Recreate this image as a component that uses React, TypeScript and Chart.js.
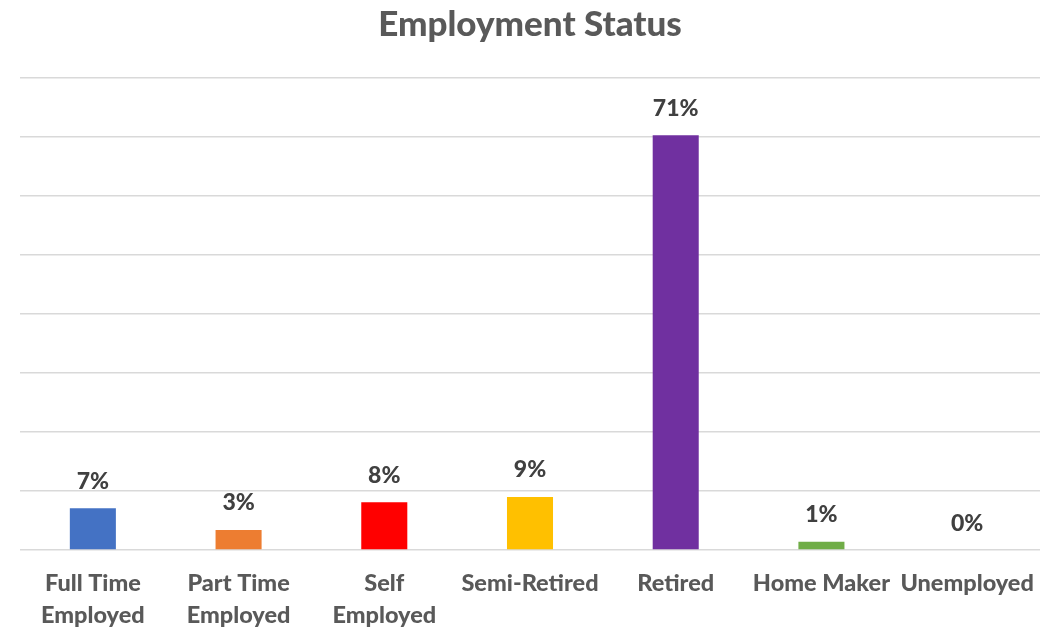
import React, { useEffect, useRef } from "react";
import { Chart, registerables } from "chart.js";

Chart.register(...registerables);

const categories: (string | string[])[] = [
  ["Full Time", "Employed"],
  ["Part Time", "Employed"],
  ["Self", "Employed"],
  "Semi-Retired",
  "Retired",
  "Home Maker",
  "Unemployed",
];
const values = [7.1, 3.4, 8.1, 9.0, 70.3, 1.4, 0];
const valueLabels = ["7%", "3%", "8%", "9%", "71%", "1%", "0%"];
const barColors = ["#4472C4", "#ED7D31", "#FF0000", "#FFC000", "#7030A0", "#70AD47", "#A5A5A5"];
const titleText = "Employment Status";

const FONT = "Lato, 'Open Sans', sans-serif";

const labelPlugin = {
  id: "valueLabels",
  afterDatasetsDraw(chart: any) {
    const { ctx } = chart;
    const meta = chart.getDatasetMeta(0);
    ctx.save();
    ctx.font = `900 23px ${FONT}`;
    ctx.fillStyle = "#404040";
    ctx.textAlign = "center";
    ctx.textBaseline = "middle";
    meta.data.forEach((bar: any, i: number) => {
      ctx.fillText(valueLabels[i], bar.x, bar.y - 27);
    });
    ctx.restore();
  },
};

export default function App() {
  const ref = useRef<HTMLCanvasElement | null>(null);
  useEffect(() => {
    document.body.style.margin = "0";
    const chart = new Chart(ref.current!, {
      type: "bar",
      data: {
        labels: categories,
        datasets: [
          {
            data: values,
            backgroundColor: barColors,
            categoryPercentage: 1,
            barPercentage: 0.316,
          },
        ],
      },
      options: {
        animation: false,
        responsive: false,
        maintainAspectRatio: false,
        layout: { padding: { left: 20, right: 23, top: 0, bottom: -12 } },
        plugins: {
          legend: { display: false },
          tooltip: { enabled: false },
          title: {
            display: true,
            text: titleText,
            color: "#595959",
            font: { family: FONT, size: 35, weight: 900 },
            padding: { top: 4, bottom: 32 },
          },
        },
        scales: {
          x: {
            grid: { display: false },
            border: { display: false },
            ticks: {
              color: "#595959",
              font: { family: FONT, size: 23.5, weight: 900, lineHeight: 1.36 },
              padding: 9,
              maxRotation: 0,
              autoSkip: false,
            },
          },
          y: {
            min: 0,
            max: 80,
            ticks: { display: false, stepSize: 10 },
            grid: { color: "#D9D9D9", lineWidth: 1.5, drawTicks: false },
            border: { display: false },
          },
        },
      },
      plugins: [labelPlugin],
    });
    return () => chart.destroy();
  }, []);
  return (
    <div style={{ width: 1063, height: 628, background: "#fff" }}>
      <canvas ref={ref} width={1063} height={628} style={{ display: "block" }} />
    </div>
  );
}
